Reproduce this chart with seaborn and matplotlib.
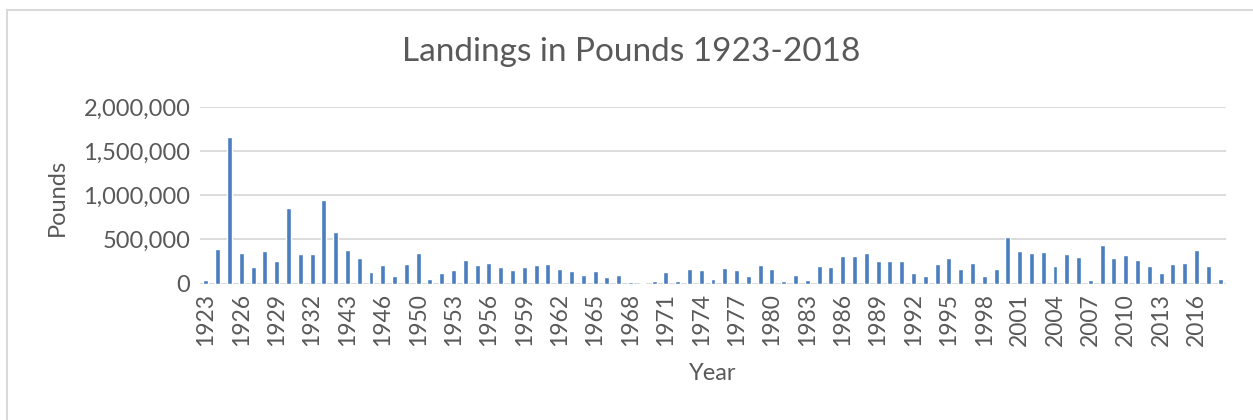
import matplotlib
matplotlib.use("Agg")
import matplotlib.pyplot as plt
import matplotlib.ticker as mticker
import seaborn as sns
import pandas as pd

# years as listed in the sheet (some wartime years are absent)
years = ([1923, 1924, 1925, 1926, 1927, 1928, 1929, 1930, 1931, 1932, 1933, 1934,
          1943, 1944, 1945, 1946, 1948, 1949]
         + list(range(1950, 2019)))

pounds = [
    38000, 390000, 1663000, 348000, 182000, 364000, 261000, 860000, 333000, 330000,
    947000, 580000, 379000, 288000, 133000, 208000, 83000, 220000,
    # 1950-1959
    341000, 55000, 119000, 150000, 269000, 212000, 238000, 185000, 158000, 192000,
    # 1960-1969
    215000, 227000, 165000, 146000, 100000, 146000, 69000, 100000, 19000, 8000,
    # 1970-1979
    31000, 133000, 31000, 162000, 150000, 50000, 177000, 150000, 81000, 215000,
    # 1980-1989
    162000, 31000, 96000, 42000, 204000, 192000, 312000, 308000, 342000, 258000,
    # 1990-1999
    254000, 258000, 115000, 88000, 227000, 285000, 162000, 235000, 85000, 169000,
    # 2000-2009
    523000, 365000, 346000, 362000, 204000, 335000, 304000, 35000, 442000, 292000,
    # 2010-2018
    319000, 265000, 200000, 123000, 219000, 231000, 377000, 204000, 54000,
]

df = pd.DataFrame({"Year": [str(y) for y in years], "Pounds": pounds})

sns.set_theme(style="white")
plt.rcParams["font.family"] = ["Lato", "DejaVu Sans"]
text_grey = "#595959"
grid_grey = "#D9D9D9"

fig = plt.figure(figsize=(12.53, 4.2), dpi=100)
ax = fig.add_axes([200 / 1253, 1 - 283.5 / 420, 1026 / 1253, 176.2 / 420])

sns.barplot(data=df, x="Year", y="Pounds", color="#4a7ebf", width=0.42,
            saturation=1, ax=ax, zorder=3)

ax.set_xlim(-0.5, len(years) - 0.5)
ax.set_ylim(0, 2000000)
ax.set_yticks([0, 500000, 1000000, 1500000, 2000000])
ax.yaxis.set_major_formatter(mticker.FuncFormatter(lambda v, p: f"{int(v):,}"))
ax.set_xticks(range(0, len(years), 3))
ax.set_xticklabels([str(years[i]) for i in range(0, len(years), 3)], rotation=90)

ax.grid(axis="y", color=grid_grey, linewidth=1.3, zorder=0)
for s in ax.spines.values():
    s.set_visible(False)
ax.axhline(0, color=grid_grey, linewidth=1.3, zorder=2)

ax.tick_params(axis="y", length=0, labelsize=17, colors=text_grey, pad=7)
ax.tick_params(axis="x", length=0, labelsize=16.5, colors=text_grey, pad=7)
ax.set_xlabel("")
ax.set_ylabel("")

fig.text(713 / 1253, 1 - 374 / 420, "Year", ha="center", va="center",
         fontsize=17, color=text_grey)
fig.text(57 / 1253, 1 - 197 / 420, "Pounds", ha="center", va="center",
         rotation=90, fontsize=17, color=text_grey)
fig.text(631 / 1253, 1 - 52 / 420, "Landings in Pounds 1923-2018", ha="center",
         va="center", fontsize=24, color=text_grey)

# chart-area border (top and left visible in the capture)
fig.add_artist(plt.Line2D([7 / 1253, 1], [1 - 9.5 / 420, 1 - 9.5 / 420],
                          color=grid_grey, linewidth=1.5, transform=fig.transFigure))
fig.add_artist(plt.Line2D([7 / 1253, 7 / 1253], [0, 1 - 9.5 / 420],
                          color=grid_grey, linewidth=1.5, transform=fig.transFigure))

fig.savefig("out.png", dpi=100)
